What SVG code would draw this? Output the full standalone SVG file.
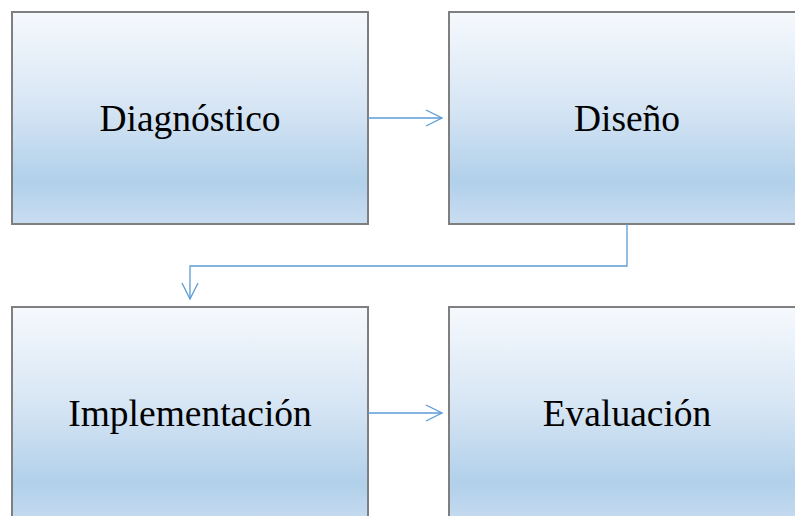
<svg xmlns="http://www.w3.org/2000/svg" width="795" height="516" viewBox="0 0 795 516">
<defs>
<linearGradient id="g" x1="0" y1="0" x2="0" y2="1">
<stop offset="0" stop-color="#f6f9fd"/>
<stop offset="0.45" stop-color="#d6e5f4"/>
<stop offset="0.8" stop-color="#b1d0ea"/>
<stop offset="1" stop-color="#c9ddf1"/>
</linearGradient>
<marker id="arr" viewBox="0 0 20 20" refX="18" refY="10" markerWidth="20" markerHeight="20" markerUnits="userSpaceOnUse" orient="auto">
<path d="M2,2 L18,10 L2,18" fill="none" stroke="#5b9bd5" stroke-width="1.3"/>
</marker>
<style>
.box{fill:url(#g);stroke:#7f7f7f;stroke-width:2}
.lbl{font-family:"Liberation Serif","Times New Roman",serif;font-size:37.5px;fill:#000;text-anchor:middle}
.con{fill:none;stroke:#5b9bd5;stroke-width:1.3}
</style>
</defs>
<rect width="795" height="516" fill="#fff"/>
<g id="diagnostico"><rect class="box" x="12" y="12" width="356" height="212"/><text class="lbl" x="190" y="131">Diagnóstico</text></g>
<g id="diseno"><rect class="box" x="449" y="12" width="356" height="212"/><text class="lbl" x="627" y="131">Diseño</text></g>
<g id="implementacion"><rect class="box" x="12" y="307" width="356" height="220"/><text class="lbl" x="190" y="426">Implementación</text></g>
<g id="evaluacion"><rect class="box" x="449" y="307" width="356" height="220"/><text class="lbl" x="627" y="426">Evaluación</text></g>
<g id="connectors">
<path class="con" d="M368,118 L442,118" marker-end="url(#arr)"/>
<path class="con" d="M627,224 L627,266 L190,266 L190,299" marker-end="url(#arr)"/>
<path class="con" d="M368,413 L442,413" marker-end="url(#arr)"/>
</g>
</svg>
